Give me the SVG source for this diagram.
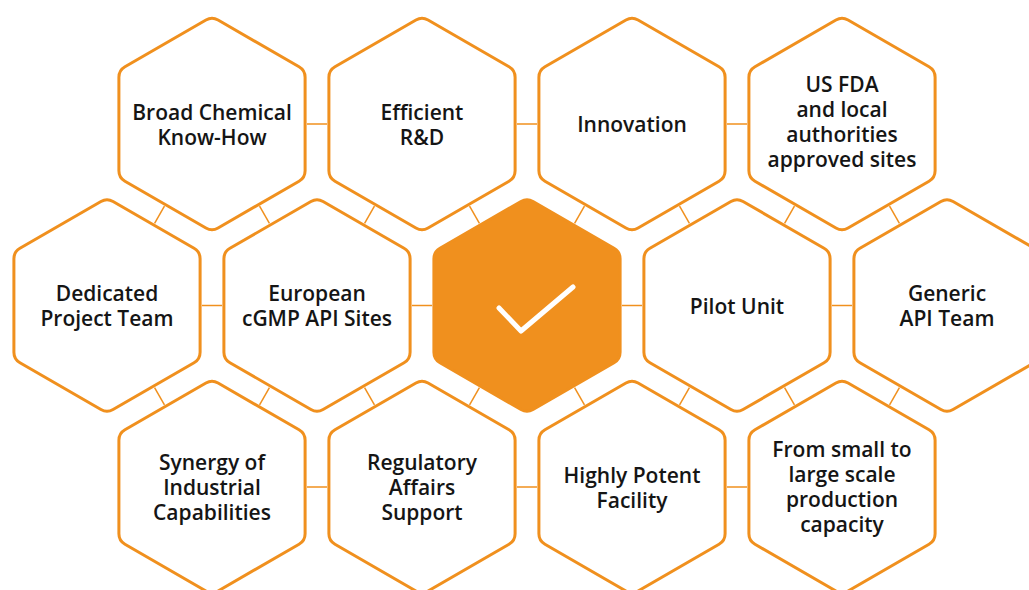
<svg xmlns="http://www.w3.org/2000/svg" width="1029" height="590" viewBox="0 0 1029 590">
<style>
.hex{fill:#fff;stroke:#F0901E;stroke-width:3}
.hexf{fill:#F0901E;stroke:#F0901E;stroke-width:3}
.con line{stroke:#F0901E;stroke-width:1.5}
text{font-family:"Open Sans","Noto Sans",sans-serif;font-weight:600;font-size:21px;fill:#151515;text-anchor:middle}
</style>
<defs>
<path id="h" d="M-6.06,-104 Q0,-107.5 6.06,-104 L87.04,-57.25 Q93.1,-53.75 93.1,-46.75 L93.1,46.75 Q93.1,53.75 87.04,57.25 L6.06,104 Q0,107.5 -6.06,104 L-87.04,57.25 Q-93.1,53.75 -93.1,46.75 L-93.1,-46.75 Q-93.1,-53.75 -87.04,-57.25 Z"/>
</defs>
<rect width="1029" height="590" fill="#fff"/>
<g id="connectors" class="con">
<line x1="307" y1="124" x2="327" y2="124"/>
<line x1="517" y1="124" x2="537" y2="124"/>
<line x1="727" y1="124" x2="747" y2="124"/>
<line x1="202" y1="305.5" x2="222" y2="305.5"/>
<line x1="412" y1="305.5" x2="432" y2="305.5"/>
<line x1="622" y1="305.5" x2="642" y2="305.5"/>
<line x1="832" y1="305.5" x2="852" y2="305.5"/>
<line x1="307" y1="487" x2="327" y2="487"/>
<line x1="517" y1="487" x2="537" y2="487"/>
<line x1="727" y1="487" x2="747" y2="487"/>
<line x1="164.43" y1="206.22" x2="154.57" y2="223.28"/>
<line x1="259.57" y1="206.22" x2="269.43" y2="223.28"/>
<line x1="374.43" y1="206.22" x2="364.57" y2="223.28"/>
<line x1="469.57" y1="206.22" x2="479.43" y2="223.28"/>
<line x1="584.43" y1="206.22" x2="574.57" y2="223.28"/>
<line x1="679.57" y1="206.22" x2="689.43" y2="223.28"/>
<line x1="794.43" y1="206.22" x2="784.57" y2="223.28"/>
<line x1="889.57" y1="206.22" x2="899.43" y2="223.28"/>
<line x1="164.43" y1="404.78" x2="154.57" y2="387.72"/>
<line x1="259.57" y1="404.78" x2="269.43" y2="387.72"/>
<line x1="374.43" y1="404.78" x2="364.57" y2="387.72"/>
<line x1="469.57" y1="404.78" x2="479.43" y2="387.72"/>
<line x1="584.43" y1="404.78" x2="574.57" y2="387.72"/>
<line x1="679.57" y1="404.78" x2="689.43" y2="387.72"/>
<line x1="794.43" y1="404.78" x2="784.57" y2="387.72"/>
<line x1="889.57" y1="404.78" x2="899.43" y2="387.72"/>
</g>
<g id="broad-chemical"><use href="#h" class="hex" x="212" y="124"/><text x="212" y="120">Broad Chemical<tspan x="212" dy="25">Know-How</tspan></text></g>
<g id="efficient-rd"><use href="#h" class="hex" x="422" y="124"/><text x="422" y="120">Efficient<tspan x="422" dy="25">R&amp;D</tspan></text></g>
<g id="innovation"><use href="#h" class="hex" x="632" y="124"/><text x="632" y="132">Innovation</text></g>
<g id="us-fda"><use href="#h" class="hex" x="842" y="124"/><text x="842" y="92">US FDA<tspan x="842" dy="25">and local</tspan><tspan x="842" dy="25">authorities</tspan><tspan x="842" dy="25">approved sites</tspan></text></g>
<g id="dedicated"><use href="#h" class="hex" x="107" y="305.5"/><text x="107" y="301">Dedicated<tspan x="107" dy="25">Project Team</tspan></text></g>
<g id="european"><use href="#h" class="hex" x="317" y="305.5"/><text x="317" y="301">European<tspan x="317" dy="25">cGMP API Sites</tspan></text></g>
<g id="center"><use href="#h" class="hexf" x="527" y="305.5"/><polyline points="499,308 521,331 573,287" fill="none" stroke="#fff" stroke-width="5" stroke-linecap="round" stroke-linejoin="round"/></g>
<g id="pilot-unit"><use href="#h" class="hex" x="737" y="305.5"/><text x="737" y="313.5">Pilot Unit</text></g>
<g id="generic-api"><use href="#h" class="hex" x="947" y="305.5"/><text x="947" y="301">Generic<tspan x="947" dy="25">API Team</tspan></text></g>
<g id="synergy"><use href="#h" class="hex" x="212" y="487"/><text x="212" y="469.5">Synergy of<tspan x="212" dy="25">Industrial</tspan><tspan x="212" dy="25">Capabilities</tspan></text></g>
<g id="regulatory"><use href="#h" class="hex" x="422" y="487"/><text x="422" y="469.5">Regulatory<tspan x="422" dy="25">Affairs</tspan><tspan x="422" dy="25">Support</tspan></text></g>
<g id="highly-potent"><use href="#h" class="hex" x="632" y="487"/><text x="632" y="482.5">Highly Potent<tspan x="632" dy="25">Facility</tspan></text></g>
<g id="small-large"><use href="#h" class="hex" x="842" y="487"/><text x="842" y="457">From small to<tspan x="842" dy="25">large scale</tspan><tspan x="842" dy="25">production</tspan><tspan x="842" dy="25">capacity</tspan></text></g>
</svg>
